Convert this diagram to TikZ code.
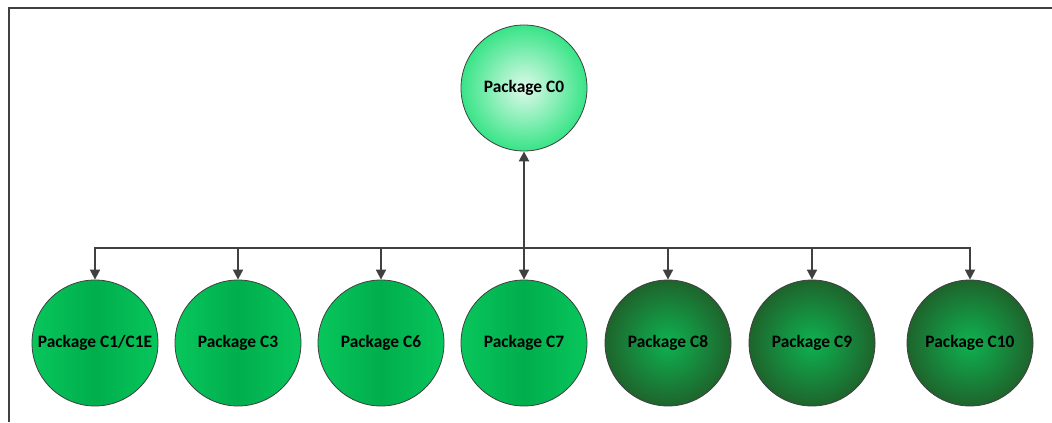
\documentclass[tikz,border=0pt]{standalone}
\usepackage{fontspec}
\setmainfont{Carlito}
\usetikzlibrary{positioning,arrows.meta}
\definecolor{mintcenter}{RGB}{222,250,234}
\definecolor{mintedge}{RGB}{56,228,135}
\definecolor{leafgreen}{RGB}{8,198,92}
\definecolor{leafmid}{RGB}{0,174,76}
\definecolor{forestcenter}{RGB}{14,178,80}
\definecolor{forestedge}{RGB}{30,100,44}
\definecolor{linegray}{RGB}{64,64,64}

\begin{document}
\begin{tikzpicture}[x=0.5pt, y=-0.5pt, node distance = 71.5pt and 71.5pt, on grid,
    pkg/.style={circle, draw=linegray, line width=0.4pt, minimum size=63pt, inner sep=0pt, font=\bfseries\fontsize{8.7}{10}\selectfont},
    mint/.style={pkg, shading=radial, inner color=mintcenter, outer color=mintedge},
    leaf/.style={pkg, left color=leafgreen, right color=leafgreen, middle color=leafmid},
    forest/.style={pkg, shading=radial, inner color=forestcenter, outer color=forestedge},
    conn/.style={draw=linegray, line width=0.9pt, -{Triangle[length=5pt,width=5pt]}}]
    \useasboundingbox (0,0) rectangle (1052,422);
    % frame
    \draw [linegray, line width=1pt] (9,422) -- (9,8) -- (1052,8);
    \node [mint] (C0) at (524,88) {Package C0};
    \node [leaf] (C7) [below =127.5pt of C0] {Package C7};
    \node [leaf] (C6) [left =of C7] {Package C6};
    \node [leaf] (C3) [left =of C6] {Package C3};
    \node [leaf] (C1) [left =of C3] {Package C1/C1E};
    \node [forest] (C8) [right =72pt of C7] {Package C8};
    \node [forest] (C9) [right =72pt of C8] {Package C9};
    \node [forest] (C10) [right =79pt of C9] {Package C10};
    \coordinate (bus) at (524,248);
    % connectors
    \draw [conn, line width=1.2pt] (bus) -- (C0);
    \draw [conn] (bus) -- (C7);
    \foreach \pkgname in {C1,C3,C6,C8,C9,C10}
        \draw [conn] (bus) -| (\pkgname);
\end{tikzpicture}
\end{document}
